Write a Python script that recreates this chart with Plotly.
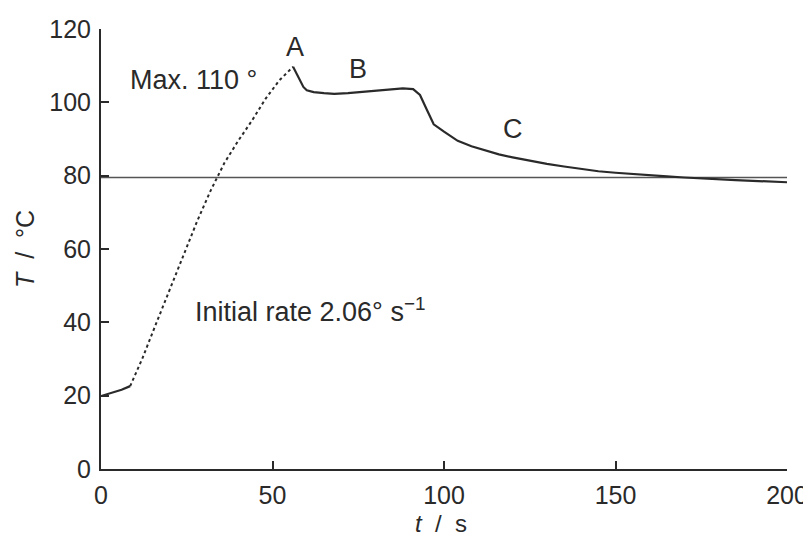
import plotly.graph_objects as go

# initial hold (solid)
t_init = [0, 3, 6, 8.5]
T_init = [19.9, 20.7, 21.6, 22.6]

# heating ramp (dotted)
t_rise = [8.5, 12, 16, 20, 24, 28, 32, 36, 40, 44, 48, 52, 56]
T_rise = [22.6, 30, 39.5, 49, 58.5, 67.5, 76, 83.5, 89.5, 95, 101, 106, 109.7]

# after max (solid)
t_main = [56, 57, 58, 59, 60, 62, 65, 68, 72, 76, 80, 84, 88, 91, 93, 95, 97, 100,
          104, 108, 112, 116, 120, 125, 130, 135, 140, 145, 150, 155, 160, 165,
          170, 175, 180, 185, 190, 195, 200]
T_main = [109.7, 108, 106, 104.2, 103.3, 102.8, 102.5, 102.3, 102.5, 102.8, 103, 103.5,
          103.8, 103.6, 102, 98, 94, 92, 89.5, 88, 86.8, 85.8, 85, 84, 83.2, 82.5,
          81.8, 81.2, 80.8, 80.4, 80.1, 79.8, 79.5, 79.2, 79, 78.8, 78.6, 78.4, 78.2]

ref_t = [0, 200]
ref_T = [79.5, 79.5]

x_ticks = [0, 50, 100, 150, 200]
y_ticks = [0, 20, 40, 60, 80, 100, 120]

ink = "#2a2a2a"
font = "Liberation Sans, Arial, sans-serif"

fig = go.Figure()
fig.add_trace(go.Scatter(x=ref_t, y=ref_T, mode="lines",
                         line=dict(color="#555555", width=1.6), hoverinfo="skip"))
fig.add_trace(go.Scatter(x=t_init, y=T_init, mode="lines",
                         line=dict(color=ink, width=2.2)))
fig.add_trace(go.Scatter(x=t_rise, y=T_rise, mode="lines",
                         line=dict(color=ink, width=2, dash="dot")))
fig.add_trace(go.Scatter(x=t_main, y=T_main, mode="lines",
                         line=dict(color=ink, width=2.2)))

annots = [
    dict(x=90, y=120.5, text="NLBP 103 °C"),
    dict(x=56.6, y=115.2, text="A"),
    dict(x=74.9, y=109.1, text="B"),
    dict(x=120, y=92.7, text="C"),
    dict(x=27.1, y=106.2, text="Max. 110 °"),
    dict(x=61, y=43.3, text="Initial rate 2.06° s<sup>−1</sup>"),
]
for a in annots:
    fig.add_annotation(x=a["x"], y=a["y"], text=a["text"], showarrow=False,
                       xref="x", yref="y", font=dict(family=font, size=27, color=ink))

# x-axis title, placed just below the tick labels
fig.add_annotation(x=99, y=0, xref="x", yref="paper", yshift=-54, yanchor="middle",
                   text="<i>t</i>  /  s", showarrow=False,
                   font=dict(family=font, size=24, color=ink))

# page body has an 8px margin, so the figure is offset by 8px in the window
fig.update_layout(
    width=803, height=530,
    margin=dict(l=93, r=24, t=21, b=69, autoexpand=False),
    paper_bgcolor="white", plot_bgcolor="white",
    showlegend=False,
    font=dict(family=font, size=25, color=ink),
)
fig.update_xaxes(range=[0, 200], tickvals=x_ticks, showgrid=False, zeroline=False,
                 showline=True, linecolor=ink, linewidth=2,
                 ticks="inside", ticklen=8, tickwidth=2, tickcolor=ink,
                 tickfont=dict(size=25, color=ink), ticklabelstandoff=3)
fig.update_yaxes(range=[0, 120], tickvals=y_ticks, showgrid=False, zeroline=False,
                 showline=True, linecolor=ink, linewidth=2,
                 ticks="inside", ticklen=8, tickwidth=2, tickcolor=ink,
                 tickfont=dict(size=25, color=ink), ticklabelstandoff=3,
                 title=dict(text="<i>T</i>  /  °C", font=dict(size=25, color=ink), standoff=8))

fig.write_html("out.html")
